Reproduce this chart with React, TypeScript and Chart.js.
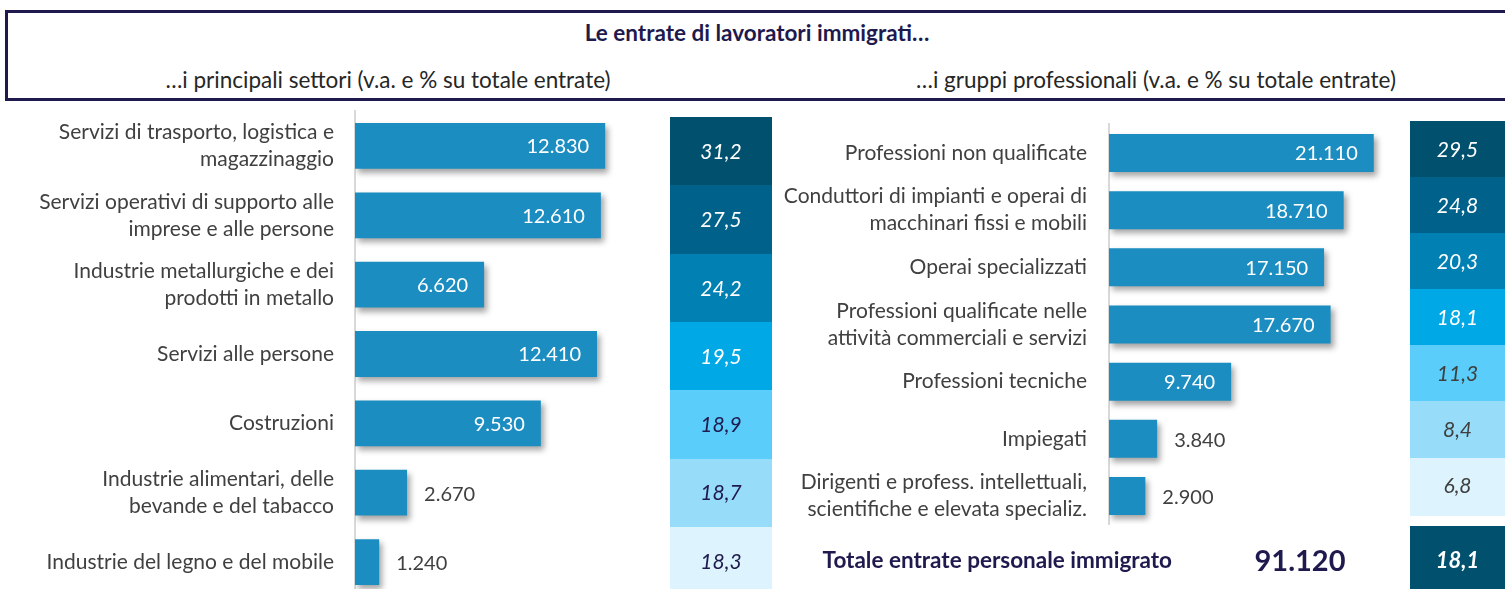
import React, { useEffect, useRef } from "react";
import { Chart, registerables } from "chart.js";
Chart.register(...registerables);

const TITLE = "Le entrate di lavoratori immigrati…";
const LEFT_SUBTITLE = "…i principali settori (v.a. e % su totale entrate)";
const RIGHT_SUBTITLE = "…i gruppi professionali (v.a. e % su totale entrate)";

const sectorLabels: (string | string[])[] = [
  ["Servizi di trasporto, logistica e", "magazzinaggio"],
  ["Servizi operativi di supporto alle", "imprese e alle persone"],
  ["Industrie metallurgiche e dei", "prodotti in metallo"],
  "Servizi alle persone",
  "Costruzioni",
  ["Industrie alimentari, delle", "bevande e del tabacco"],
  "Industrie del legno e del mobile",
];
const sectorValues = [12830, 12610, 6620, 12410, 9530, 2670, 1240];
const sectorShares = [31.2, 27.5, 24.2, 19.5, 18.9, 18.7, 18.3];

const groupLabels: (string | string[])[] = [
  "Professioni non qualificate",
  ["Conduttori di impianti e operai di", "macchinari fissi e mobili"],
  "Operai specializzati",
  ["Professioni qualificate nelle", "attività commerciali e servizi"],
  "Professioni tecniche",
  "Impiegati",
  ["Dirigenti e profess. intellettuali,", "scientifiche e elevata specializ."],
];
const groupValues = [21110, 18710, 17150, 17670, 9740, 3840, 2900];
const groupShares = [29.5, 24.8, 20.3, 18.1, 11.3, 8.4, 6.8];

const TOTAL_LABEL = "Totale entrate personale immigrato";
const TOTAL_VALUE = 91120;
const TOTAL_SHARE = 18.1;

const FONT = "Lato, 'Open Sans', sans-serif";
const BAR_COLOR = "#1B8DC0";
const NAVY = "#1F1A4E";
const GRAY_TEXT = "#404040";
const BOX_COLORS = ["#00506E", "#00628A", "#0080B3", "#00A8E6", "#5ACDFA", "#97DDFA", "#DDF3FD"];

const fmtInt = (v: number) => String(Math.round(v)).replace(/\B(?=(\d{3})+(?!\d))/g, ".");
const fmtDec = (v: number) => v.toFixed(1).replace(".", ",");

const shadowPlugin = {
  id: "barShadow",
  beforeDatasetDraw(chart: any) {
    const ctx = chart.ctx;
    ctx.save();
    ctx.shadowColor = "rgba(0,0,0,0.36)";
    ctx.shadowBlur = 6;
    ctx.shadowOffsetX = 3;
    ctx.shadowOffsetY = 4;
  },
  afterDatasetDraw(chart: any) {
    chart.ctx.restore();
  },
};

const valueLabelPlugin = {
  id: "valueLabels",
  afterDatasetsDraw(chart: any, _args: any, opts: any) {
    const ctx = chart.ctx;
    const meta = chart.getDatasetMeta(0);
    const data = chart.data.datasets[0].data as number[];
    ctx.save();
    ctx.font = `${opts.size}px ${FONT}`;
    ctx.textBaseline = "middle";
    meta.data.forEach((bar: any, i: number) => {
      const v = data[i];
      if (v >= opts.threshold) {
        ctx.fillStyle = "#FFFFFF";
        ctx.textAlign = "right";
        ctx.fillText(fmtInt(v), bar.x - 16, bar.y + 1);
      } else {
        ctx.fillStyle = GRAY_TEXT;
        ctx.textAlign = "left";
        ctx.fillText(fmtInt(v), bar.x + 17, bar.y + 2);
      }
    });
    ctx.restore();
  },
};

const shareBoxPlugin = {
  id: "shareBoxes",
  afterDraw(chart: any, _args: any, opts: any) {
    const ctx = chart.ctx;
    const y = chart.scales.y;
    const area = chart.chartArea;
    const shares = opts.shares as number[];
    const n = shares.length;
    const band = (area.bottom - area.top) / n;
    const h = band * opts.scale;
    ctx.save();
    shares.forEach((s, i) => {
      const yc = y.getPixelForValue(i);
      const top = area.top + opts.shift + (yc - band / 2 - area.top) * opts.scale;
      ctx.fillStyle = BOX_COLORS[i];
      ctx.fillRect(opts.x, Math.round(top), opts.w, Math.ceil(h) + 1);
      ctx.fillStyle = i < 4 ? "#FFFFFF" : opts.darkText;
      ctx.font = `italic ${opts.size}px ${FONT}`;
      ctx.textAlign = "center";
      ctx.textBaseline = "middle";
      ctx.fillText(fmtDec(s), opts.x + opts.w / 2, top + h / 2 + 1);
    });
    ctx.restore();
  },
};

function makeConfig(labels: any[], values: number[], shares: number[], o: any): any {
  return {
    type: "bar",
    data: {
      labels,
      datasets: [
        {
          data: values,
          backgroundColor: BAR_COLOR,
          borderWidth: 0,
          barPercentage: o.barPct,
          categoryPercentage: 1,
        },
      ],
    },
    plugins: [shadowPlugin, valueLabelPlugin, shareBoxPlugin],
    options: {
      indexAxis: "y",
      responsive: false,
      animation: false,
      devicePixelRatio: 1,
      layout: { padding: o.padding },
      scales: {
        x: { display: false, min: 0, max: o.max },
        y: {
          grid: { display: false, drawTicks: false },
          border: { display: true, color: "#D9D9D9", width: 2 },
          ticks: {
            color: GRAY_TEXT,
            padding: o.tickPadding,
            autoSkip: false,
            font: { family: FONT, size: 21, lineHeight: "27px" },
          },
          afterFit(scale: any) {
            scale.width = o.yWidth;
            scale.paddingTop = 0;
            scale.paddingBottom = 0;
          },
        },
      },
      plugins: {
        legend: { display: false },
        tooltip: { enabled: false },
        valueLabels: { threshold: 5000, size: 20 },
        shareBoxes: {
          shares,
          x: o.boxX,
          w: o.boxW,
          shift: o.boxShift,
          scale: o.boxScale,
          darkText: o.darkText,
          size: 21,
        },
      },
    },
  };
}

export default function App() {
  const leftRef = useRef<HTMLCanvasElement>(null);
  const rightRef = useRef<HTMLCanvasElement>(null);

  useEffect(() => {
    const left = new Chart(
      leftRef.current as HTMLCanvasElement,
      makeConfig(sectorLabels, sectorValues, sectorShares, {
        max: 16000,
        barPct: 0.66,
        padding: { top: 111.3, bottom: 3.3, left: 0, right: 113 },
        yWidth: 355,
        tickPadding: 21,
        boxX: 670,
        boxW: 102,
        boxShift: 5.7,
        boxScale: 0.985,
        darkText: NAVY,
      })
    );
    const right = new Chart(
      rightRef.current as HTMLCanvasElement,
      makeConfig(groupLabels, groupValues, groupShares, {
        max: 24000,
        barPct: 0.665,
        padding: { top: 124.4, bottom: 75.4, left: 0, right: 95 },
        yWidth: 329,
        tickPadding: 22,
        boxX: 630,
        boxW: 95,
        boxShift: -3.4,
        boxScale: 0.981,
        darkText: "#3F3F3F",
      })
    );
    return () => {
      left.destroy();
      right.destroy();
    };
  }, []);

  return (
    <div
      style={{
        position: "fixed",
        left: 0,
        top: 0,
        width: 1505,
        height: 589,
        overflow: "hidden",
        background: "#FFFFFF",
        fontFamily: FONT,
      }}
    >
      <div
        style={{
          position: "absolute",
          left: 5,
          top: 10,
          width: 1520,
          height: 85,
          borderTop: `3px solid ${NAVY}`,
          borderBottom: `3px solid ${NAVY}`,
          borderLeft: `3px solid ${NAVY}`,
        }}
      />
      <div
        style={{
          position: "absolute",
          left: 407,
          width: 700,
          top: 19,
          textAlign: "center",
          fontWeight: 700,
          fontSize: 22.5,
          color: NAVY,
          lineHeight: "28px",
        }}
      >
        {TITLE}
      </div>
      <div
        style={{
          position: "absolute",
          left: 38,
          width: 700,
          top: 66,
          textAlign: "center",
          fontSize: 22.5,
          color: "#262626",
          lineHeight: "28px",
        }}
      >
        {LEFT_SUBTITLE}
      </div>
      <div
        style={{
          position: "absolute",
          left: 806,
          width: 700,
          top: 66,
          textAlign: "center",
          fontSize: 22.5,
          color: "#262626",
          lineHeight: "28px",
        }}
      >
        {RIGHT_SUBTITLE}
      </div>
      <canvas ref={leftRef} width={780} height={600} style={{ position: "absolute", left: 0, top: 0 }} />
      <canvas ref={rightRef} width={725} height={600} style={{ position: "absolute", left: 780, top: 0 }} />
      <div
        style={{
          position: "absolute",
          left: 672,
          width: 500,
          top: 546,
          textAlign: "right",
          fontWeight: 700,
          fontSize: 22.5,
          color: NAVY,
          lineHeight: "28px",
        }}
      >
        {TOTAL_LABEL}
      </div>
      <div
        style={{
          position: "absolute",
          left: 1200,
          width: 200,
          top: 542,
          textAlign: "center",
          fontWeight: 700,
          fontSize: 29,
          color: NAVY,
          lineHeight: "36px",
        }}
      >
        {fmtInt(TOTAL_VALUE)}
      </div>
      <div
        style={{
          position: "absolute",
          left: 1410,
          width: 95,
          top: 526,
          height: 70,
          background: BOX_COLORS[0],
          color: "#FFFFFF",
          fontWeight: 700,
          fontStyle: "italic",
          fontSize: 22,
          textAlign: "center",
          lineHeight: "68px",
        }}
      >
        {fmtDec(TOTAL_SHARE)}
      </div>
    </div>
  );
}
